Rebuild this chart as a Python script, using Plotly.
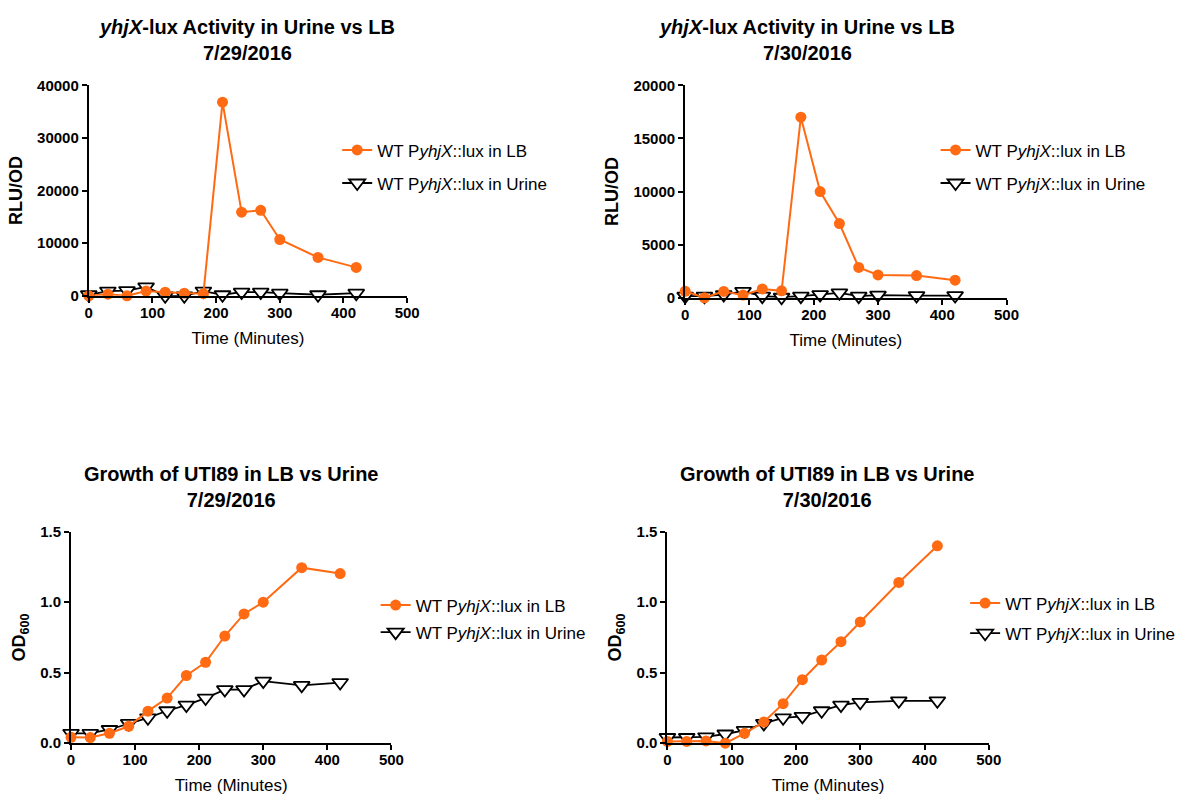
import plotly.graph_objects as go

W, H = 1195, 805
FONT = "Liberation Sans, Arial, sans-serif"
ORANGE = "#FF6A13"

time_min = [0, 30, 60, 90, 120, 150, 180, 210, 240, 270, 300, 360, 420]

# 7/29/2016 luminescence (RLU/OD)
lux_lb_0729 = [0, 300, 0, 900, 700, 500, 400, 36800, 15900, 16250, 10700, 7300, 5400]
lux_ur_0729 = [200, 900, 1000, 1700, 0, 0, 900, 200, 700, 700, 500, 200, 500]
# 7/30/2016 luminescence (RLU/OD)
lux_lb_0730 = [615, 0, 600, 250, 830, 650, 17000, 10000, 6990, 2860, 2150, 2090, 1660]
lux_ur_0730 = [150, 150, 300, 600, 150, 50, 150, 300, 460, 150, 250, 200, 200]
# 7/29/2016 growth (OD600)
od_lb_0729 = [0.042, 0.040, 0.070, 0.120, 0.227, 0.320, 0.480, 0.574, 0.760, 0.917, 1.000, 1.245, 1.203]
od_ur_0729 = [0.070, 0.070, 0.097, 0.140, 0.180, 0.230, 0.270, 0.320, 0.380, 0.380, 0.440, 0.410, 0.430]
# 7/30/2016 growth (OD600)
od_lb_0730 = [0.012, 0.012, 0.016, 0.000, 0.070, 0.150, 0.280, 0.450, 0.590, 0.720, 0.860, 1.140, 1.400]
od_ur_0730 = [0.040, 0.040, 0.045, 0.065, 0.090, 0.140, 0.180, 0.190, 0.230, 0.270, 0.290, 0.300, 0.300]

name_lb = "WT P<i>yhjX</i>::lux in LB"
name_ur = "WT P<i>yhjX</i>::lux in Urine"

titles = [
    "<b><i>yhjX</i>-lux Activity in Urine vs LB<br>7/29/2016</b>",
    "<b><i>yhjX</i>-lux Activity in Urine vs LB<br>7/30/2016</b>",
    "<b>Growth of UTI89 in LB vs Urine<br>7/29/2016</b>",
    "<b>Growth of UTI89 in LB vs Urine<br>7/30/2016</b>",
]
ytitles = ["<b>RLU/OD</b>", "<b>RLU/OD</b>", "<b>OD<sub>600</sub></b>", "<b>OD<sub>600</sub></b>"]

panels = [
    (lux_lb_0729, lux_ur_0729, [0, 40000], 10000, None),
    (lux_lb_0730, lux_ur_0730, [0, 20000], 5000, None),
    (od_lb_0729, od_ur_0729, [0, 1.5], 0.5, ".1f"),
    (od_lb_0730, od_ur_0730, [0, 1.5], 0.5, ".1f"),
]

# pixel boxes: (x0, x1, ytop, ybottom)
boxes = [(86, 409, 78, 293), (691, 1017, 78, 295), (68, 393, 534, 750), (673, 999, 534, 750)]
title_pos = [(246, 5), (815, 5), (230, 462), (835, 462)]
legend_pos = [(338, 126), (945, 126), (377, 591), (975, 589)]
legend_gap = [8, 8, 2, 5]

fig = go.Figure()
layout = dict(
    width=W, height=H, margin=dict(l=0, r=0, t=0, b=0),
    paper_bgcolor="white", plot_bgcolor="white",
    font=dict(family=FONT, color="black"),
    showlegend=True, annotations=[],
)

for i, (lb, ur, yr, dt, fmt) in enumerate(panels):
    k = "" if i == 0 else str(i + 1)
    xa, ya = "x" + k, "y" + k
    lg = "legend" + k
    fig.add_trace(go.Scatter(
        x=time_min, y=ur, name=name_ur, xaxis=xa, yaxis=ya, legend=lg,
        mode="lines+markers", cliponaxis=False, legendgroup="u%d" % i, legendrank=2,
        line=dict(color="black", width=1.8),
        marker=dict(symbol="triangle-down", size=14, color="white",
                    line=dict(color="black", width=1.8)),
    ))
    fig.add_trace(go.Scatter(
        x=time_min, y=lb, name=name_lb, xaxis=xa, yaxis=ya, legend=lg,
        mode="lines+markers", cliponaxis=False, legendgroup="l%d" % i, legendrank=1,
        line=dict(color=ORANGE, width=2),
        marker=dict(symbol="circle", size=11, color=ORANGE),
    ))
    x0, x1, yt, yb = boxes[i]
    axcommon = dict(showgrid=False, zeroline=False, showline=True, linecolor="black",
                    linewidth=2, ticks="outside", ticklen=5, tickwidth=2, tickcolor="black",
                    tickfont=dict(family=FONT, size=15, color="black", weight="bold"))
    layout["xaxis" + k] = dict(
        domain=[x0 / W, x1 / W], anchor=ya, range=[0, 500], dtick=100,
        ticklabelstandoff=-3,
        title=dict(text="Time (Minutes)", font=dict(family=FONT, size=17), standoff=12),
        **axcommon)
    layout["yaxis" + k] = dict(
        domain=[1 - yb / H, 1 - yt / H], anchor=xa, range=yr, dtick=dt,
        tickformat=fmt if fmt else "d",
        title=dict(text=ytitles[i], font=dict(family=FONT, size=18), standoff=10),
        **axcommon)
    lx, ly = legend_pos[i]
    layout[lg] = dict(
        x=lx / W, y=1 - ly / H, xanchor="left", yanchor="top",
        traceorder="grouped", tracegroupgap=legend_gap[i],
        font=dict(family=FONT, size=17, color="black"),
        bgcolor="rgba(0,0,0,0)", itemwidth=30,
    )
    tx, ty = title_pos[i]
    layout["annotations"].append(dict(
        text=titles[i], x=tx / W, y=1 - ty / H, xref="paper", yref="paper",
        xanchor="center", yanchor="top", showarrow=False,
        font=dict(family=FONT, size=20, color="black"), align="center",
    ))

fig.update_layout(**layout)
fig.write_html("out.html")
